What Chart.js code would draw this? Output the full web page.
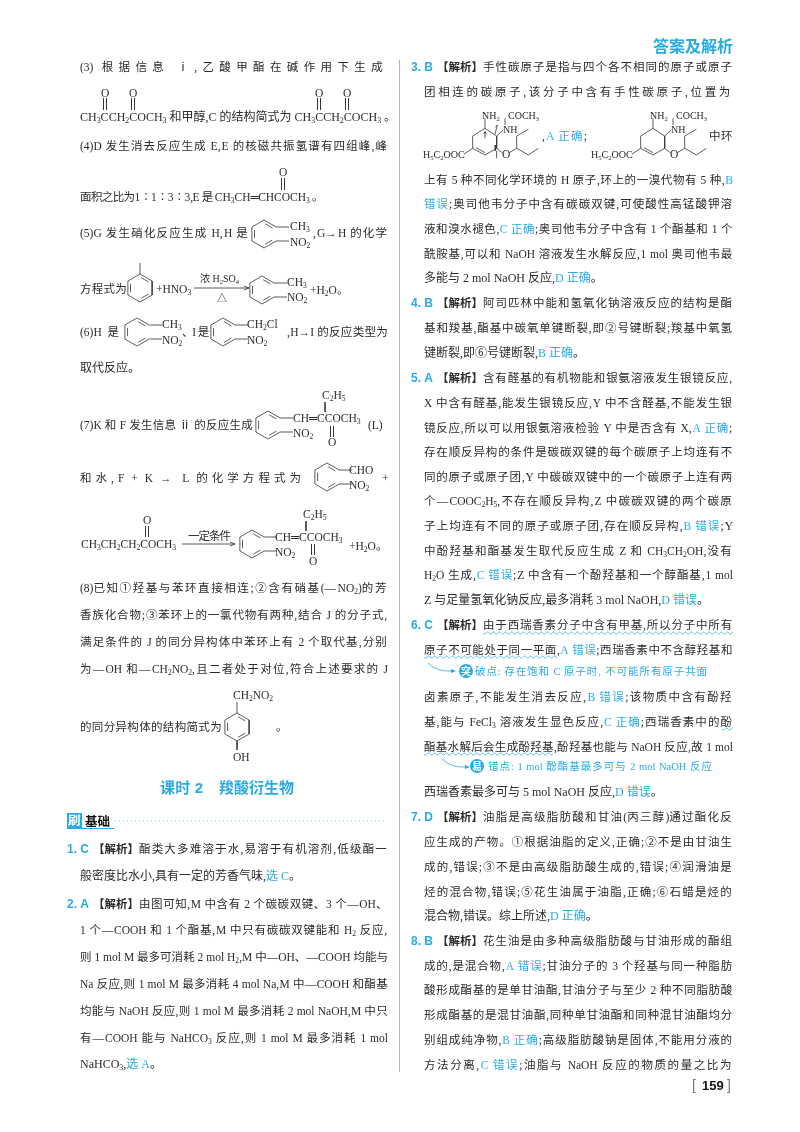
<!DOCTYPE html>
<html lang="zh">
<head>
<meta charset="utf-8">
<title>答案及解析</title>
<script src="https://cdn.jsdelivr.net/npm/chart.js@4"></script>
<style>
  html, body { margin: 0; padding: 0; background: #fff; }
  canvas { display: block; }
</style>
</head>
<body>
<canvas id="page" width="800" height="1132"></canvas>
<script>
// Markup in the text lists: {..} is blue answer text, _3 is a subscript, "3. B|" is a question label
const leftLines = [
  '(3) 根据信息 ⅰ,乙酸甲酯在碱作用下生成',
  'CH_3CCH_2COCH_3 和甲醇,C 的结构简式为 CH_3CCH_2COCH_3 。',
  '(4)D 发生消去反应生成 E,E 的核磁共振氢谱有四组峰,峰',
  '取代反应。',
  '(8)已知①羟基与苯环直接相连;②含有硝基(—NO_2)的芳',
  '香族化合物;③苯环上的一氯代物有两种,结合 J 的分子式,',
  '满足条件的 J 的同分异构体中苯环上有 2 个取代基,分别',
  '为—OH 和—CH_2NO_2,且二者处于对位,符合上述要求的 J',
  '1. C|酯类大多难溶于水,易溶于有机溶剂,低级酯一',
  '般密度比水小,具有一定的芳香气味,{选 C}。',
  '2. A|由图可知,M 中含有 2 个碳碳双键、3 个—OH、',
  '1 个—COOH 和 1 个酯基,M 中只有碳碳双键能和 H_2 反应,',
  '则 1 mol M 最多可消耗 2 mol H_2,M 中—OH、—COOH 均能与',
  'Na 反应,则 1 mol M 最多消耗 4 mol Na,M 中—COOH 和酯基',
  '均能与 NaOH 反应,则 1 mol M 最多消耗 2 mol NaOH,M 中只',
  '有—COOH 能与 NaHCO_3 反应,则 1 mol M 最多消耗 1 mol',
  'NaHCO_3,{选 A}。'
];
const leftRows = [67, 117, 146, 368, 588, 615, 642, 669, 849, 876, 904, 930, 957, 984, 1011, 1038, 1064];

const rightLines = [
  '3. B|手性碳原子是指与四个各不相同的原子或原子',
  '团相连的碳原子,该分子中含有手性碳原子,位置为',
  '上有 5 种不同化学环境的 H 原子,环上的一溴代物有 5 种,{B}',
  '{错误};奥司他韦分子中含有碳碳双键,可使酸性高锰酸钾溶',
  '液和溴水褪色,{C 正确};奥司他韦分子中含有 1 个酯基和 1 个',
  '酰胺基,可以和 NaOH 溶液发生水解反应,1 mol 奥司他韦最',
  '多能与 2 mol NaOH 反应,{D 正确}。',
  '4. B|阿司匹林中能和氢氧化钠溶液反应的结构是酯',
  '基和羧基,酯基中碳氧单键断裂,即②号键断裂;羧基中氧氢',
  '键断裂,即⑥号键断裂,{B 正确}。',
  '5. A|含有醛基的有机物能和银氨溶液发生银镜反应,',
  'X 中含有醛基,能发生银镜反应,Y 中不含醛基,不能发生银',
  '镜反应,所以可以用银氨溶液检验 Y 中是否含有 X,{A 正确};',
  '存在顺反异构的条件是碳碳双键的每个碳原子上均连有不',
  '同的原子或原子团,Y 中碳碳双键中的一个碳原子上连有两',
  '个—COOC_2H_5,不存在顺反异构,Z 中碳碳双键的两个碳原',
  '子上均连有不同的原子或原子团,存在顺反异构,{B 错误};Y',
  '中酚羟基和酯基发生取代反应生成 Z 和 CH_3CH_2OH,没有',
  'H_2O 生成,{C 错误};Z 中含有一个酚羟基和一个醇酯基,1 mol',
  'Z 与足量氢氧化钠反应,最多消耗 3 mol NaOH,{D 错误}。',
  '6. C|由于西瑞香素分子中含有甲基,所以分子中所有',
  '原子不可能处于同一平面,{A 错误};西瑞香素中不含醇羟基和',
  '卤素原子,不能发生消去反应,{B 错误};该物质中含有酚羟',
  '基,能与 FeCl_3 溶液发生显色反应,{C 正确};西瑞香素中的酚',
  '酯基水解后会生成酚羟基,酚羟基也能与 NaOH 反应,故 1 mol',
  '西瑞香素最多可与 5 mol NaOH 反应,{D 错误}。',
  '7. D|油脂是高级脂肪酸和甘油(丙三醇)通过酯化反',
  '应生成的产物。①根据油脂的定义,正确;②不是由甘油生',
  '成的,错误;③不是由高级脂肪酸生成的,错误;④润滑油是',
  '烃的混合物,错误;⑤花生油属于油脂,正确;⑥石蜡是烃的',
  '混合物,错误。综上所述,{D 正确}。',
  '8. B|花生油是由多种高级脂肪酸与甘油形成的酯组',
  '成的,是混合物,{A 错误};甘油分子的 3 个羟基与同一种脂肪',
  '酸形成酯基的是单甘油酯,甘油分子与至少 2 种不同脂肪酸',
  '形成酯基的是混甘油酯,同种单甘油酯和同种混甘油酯均分',
  '别组成纯净物,{B 正确};高级脂肪酸钠是固体,不能用分液的',
  '方法分离,{C 错误};油脂与 NaOH 反应的物质的量之比为'
];
const rightRows = [67, 92, 180, 204, 229, 254, 278, 303, 328, 353, 378, 403, 428, 452, 477, 501, 526, 551, 575, 600,
  625, 650, 697, 722, 747, 792, 817, 842, 867, 892, 916, 941, 966, 990, 1015, 1040, 1065];

// Pieces of the lines that are broken up by a structural formula
const formulaTexts = [
  'O', 'O', 'O', 'O',
  '面积之比为1∶1∶3∶3,E 是 CH_3CH═CHCOCH_3 。', 'O',
  '(5)G 发生硝化反应生成 H,H 是', ',G→H 的化学', 'CH_3', 'NO_2',
  '方程式为', '+HNO_3', '浓 H_2SO_4', '△', 'CH_3', 'NO_2', '+H_2O。',
  '(6)H 是', 'CH_3', 'NO_2', '、I 是', 'CH_2Cl', 'NO_2', ',H→I 的反应类型为',
  '(7)K 和 F 发生信息 ⅱ 的反应生成', 'CH═CCOCH_3', 'NO_2', '(L)', 'C_2H_5', 'O',
  '和水,F + K → L 的化学方程式为', 'CHO', 'NO_2', '+',
  'CH_3CH_2CH_2COCH_3', 'O', '一定条件', 'CH═CCOCH_3', 'NO_2', 'C_2H_5', 'O', '+H_2O。',
  '的同分异构体的结构简式为', 'CH_2NO_2', 'OH', '。',
  'H_5C_2OOC', 'NH_2', 'COCH_3', 'NH', 'O', ',{A 正确};',
  'H_5C_2OOC', 'NH_2', 'COCH_3', 'NH', 'O', '中环'
];
const formulaSpots = [
  [101, 93], [129, 93], [315, 93], [343, 93],
  [80, 197, 243], [279, 172],
  [80, 233, 169], [313, 233, 75], [290, 226], [290, 242],
  [80, 289, 47], [156, 289], [200, 278], [217, 298], [287, 282], [287, 297], [310, 290],
  [80, 332, 42], [162, 324], [162, 340], [182, 332, 26], [247, 324], [247, 340], [287, 332, 101],
  [80, 425, 173], [293, 418], [293, 433], [368, 425, 19], [322, 395], [328, 442],
  [80, 478, 225], [349, 470], [349, 485], [382, 478],
  [81, 544, 97], [143, 520], [188, 536, 42], [275, 537], [275, 552], [303, 514], [309, 561], [349, 546, 36],
  [80, 727, 142], [233, 695, 40], [233, 757], [276, 727],
  [423, 154, 41], [482, 115], [508, 115, 26], [503, 129], [502, 154], [542, 136, 46],
  [591, 154, 41], [650, 115], [676, 115, 26], [671, 129], [670, 154], [709, 136, 24]
];
const smallPieces = ['H_5C_2OOC', 'NH_2', 'COCH_3', 'NH', '浓 H_2SO_4', '△'];

// Centres of the benzene rings
const orthoRings = [[264, 234], [262, 290], [137, 332], [223, 332], [268, 425], [327, 477], [252, 544]];
const fullRings = [[140, 288], [237, 727]];

const blue = '#29abe2';
const ink = '#2b2b2b';
const serif = '"Liberation Serif", "Noto Sans CJK SC", sans-serif';
const sans = '"Liberation Sans", "Noto Sans CJK SC", sans-serif';

function seg(list, x1, y1, x2, y2) {
  list.push({ x: x1, y: y1 }, { x: x2, y: y2 }, { x: null, y: null });
}

function ringBonds(list, cx, cy, r, openRight) {
  const v = [];
  for (let i = 0; i < 6; i++) {
    const a = (-90 + 60 * i) * Math.PI / 180;
    v.push([cx + r * Math.cos(a), cy + r * Math.sin(a)]);
  }
  for (let i = 0; i < 6; i++) {
    if (openRight && i === 1) continue;
    const p = v[i], q = v[(i + 1) % 6];
    seg(list, p[0], p[1], q[0], q[1]);
  }
  // inner double bonds
  [0, 2, 4].forEach(i => {
    const p = v[i], q = v[(i + 1) % 6];
    const k = 0.78;
    const ix = t => cx + (t[0] - cx) * k, iy = t => cy + (t[1] - cy) * k;
    const mx = (ix(p) + ix(q)) / 2, my = (iy(p) + iy(q)) / 2;
    seg(list, mx + (ix(p) - mx) * 0.75, my + (iy(p) - my) * 0.75, mx + (ix(q) - mx) * 0.75, my + (iy(q) - my) * 0.75);
  });
  return v;
}

function doubleBond(list, x, y1, y2) {
  seg(list, x - 1.5, y1, x - 1.5, y2);
  seg(list, x + 1.5, y1, x + 1.5, y2);
}

function arrow(list, x1, x2, y) {
  seg(list, x1, y, x2, y);
  seg(list, x2 - 5, y - 2, x2, y);
  seg(list, x2 - 5, y + 2, x2, y);
}

// drawn twice on the right column, the second copy without the chirality marks
function oseltamivir(list, dx, marks) {
  const px = z => 400 + z / 3 + dx, py = z => 30 + z / 3;
  const path = pts => {
    for (let i = 1; i < pts.length; i++) seg(list, px(pts[i - 1][0]), py(pts[i - 1][1]), px(pts[i][0]), py(pts[i][1]));
  };
  path([[218, 355], [218, 318], [255, 295], [290, 318], [290, 355], [255, 375], [218, 355]]);
  path([[228, 353], [255, 368]]);
  path([[192, 372], [218, 355]]);
  path([[255, 295], [255, 265]]);
  path([[290, 318], [310, 300]]);
  path([[315, 285], [315, 265]]);
  path([[290, 355], [307, 368]]);
  path([[328, 368], [350, 355], [385, 375], [415, 355]]);
  path([[350, 355], [350, 318], [385, 298]]);
  if (marks) {
    path([[255, 325], [255, 305], [251, 312]]);
    path([[255, 305], [259, 312]]);
    path([[285, 312], [292, 285], [286, 292]]);
    path([[285, 345], [286, 362]]);
    path([[290, 385], [290, 362]]);
  }
}

const bonds = [];
orthoRings.forEach(c => {
  const v = ringBonds(bonds, c[0], c[1], 14, true);
  seg(bonds, v[1][0], v[1][1], c[0] + 25, v[1][1]);
  seg(bonds, v[2][0], v[2][1], c[0] + 25, v[2][1]);
});
fullRings.forEach(c => ringBonds(bonds, c[0], c[1], 14, false));
seg(bonds, 140, 274, 140, 263);   // methyl on toluene
seg(bonds, 237, 713, 237, 702);   // para substituents
seg(bonds, 237, 741, 237, 750);
[[105, 98, 110], [133, 98, 110], [319, 98, 110], [347, 98, 110], [283, 178, 190],
 [332, 426, 437], [147, 526, 537], [313, 544, 555]].forEach(d => doubleBond(bonds, d[0], d[1], d[2]));
seg(bonds, 325, 402, 325, 412);
seg(bonds, 306, 521, 306, 531);
arrow(bonds, 194, 249, 288);
arrow(bonds, 182, 235, 544);
oseltamivir(bonds, 0, true);
oseltamivir(bonds, 168, false);

function splitMarkup(line) {
  const runs = [];
  const add = (t, color) => {
    t.split(/(_\d)/).forEach(p => {
      if (!p) return;
      if (/^_\d$/.test(p)) { runs.push({ t: p[1], color, sub: true }); return; }
      (p.match(/[\u2000-\uffff ,;]+|[^\u2000-\uffff ,;]+/g) || []).forEach(s => {
        runs.push({ t: s, color, wide: /[\u2000-\uffff ,;]/.test(s[0]) });
      });
    });
  };
  line.split(/(\{[^}]*\})/).forEach(p => {
    if (!p) return;
    if (p[0] === '{') add(p.slice(1, -1), blue); else add(p, null);
  });
  return runs;
}

function drawLine(ctx, line, x, y, width, opts) {
  const o = opts || {};
  const size = o.size || 11.5;
  const family = o.family || serif;
  const weight = o.bold ? 'bold ' : '';
  const runs = splitMarkup(line);
  let natural = 0, gaps = 0;
  runs.forEach(r => {
    ctx.font = weight + (r.sub ? size * 0.66 : size) + 'px ' + family;
    ctx.letterSpacing = '0px';
    r.w = ctx.measureText(r.t).width;
    natural += r.w;
    if (r.wide) gaps += [...r.t].length;
  });
  const extra = width && gaps ? (width - natural) / gaps : 0;
  let cx = x;
  runs.forEach(r => {
    ctx.font = weight + (r.sub ? size * 0.66 : size) + 'px ' + family;
    ctx.letterSpacing = r.wide ? extra + 'px' : '0px';
    ctx.fillStyle = r.color || o.color || ink;
    ctx.textBaseline = 'alphabetic';
    ctx.textAlign = 'left';
    ctx.fillText(r.t, cx, y + size * 0.36 + (r.sub ? 2 : 0));
    cx += r.w + (r.wide ? extra * [...r.t].length : 0);
  });
  ctx.letterSpacing = '0px';
}

function drawColumn(chart, lines, rows, labelX, bodyX, endX) {
  const ctx = chart.ctx;
  const xs = chart.scales.x, ys = chart.scales.y;
  lines.forEach((line, i) => {
    const y = ys.getPixelForValue(rows[i]);
    let text = line, start = bodyX;
    if (line.includes('|')) {
      const parts = line.split('|');
      drawLine(ctx, parts[0], xs.getPixelForValue(labelX), y, null, { family: sans, bold: true, color: blue, size: 12 });
      drawLine(ctx, '【解析】', xs.getPixelForValue(labelX + 26), y, 46, { family: sans, bold: true, size: 11.5 });
      text = parts[1];
      start = labelX + 72;
    }
    const last = text.endsWith('。');
    drawLine(ctx, text, xs.getPixelForValue(start), y, last ? null : xs.getPixelForValue(endX) - xs.getPixelForValue(start), last ? { size: 12 } : null);
  });
}

function wave(chart, x1, x2, y) {
  const ctx = chart.ctx;
  ctx.beginPath();
  for (let x = x1; x <= x2; x += 0.5) {
    const py = y + 1.1 * Math.sin((x - x1) * Math.PI / 3);
    if (x === x1) ctx.moveTo(x, py); else ctx.lineTo(x, py);
  }
  ctx.strokeStyle = blue;
  ctx.lineWidth = 0.8;
  ctx.stroke();
}

function callout(chart, x1, y1, x2, y2, cx, cy, badge, text, tx, tw) {
  const ctx = chart.ctx;
  ctx.beginPath();
  ctx.moveTo(x1, y1);
  ctx.quadraticCurveTo((x1 + x2) / 2 - 4, y2 + 1, x2, y2);
  ctx.strokeStyle = blue;
  ctx.lineWidth = 0.8;
  ctx.stroke();
  ctx.beginPath();
  ctx.moveTo(x2 + 3, y2); ctx.lineTo(x2 - 2, y2 - 2); ctx.lineTo(x2 - 2, y2 + 2); ctx.closePath();
  ctx.fillStyle = blue;
  ctx.fill();
  ctx.beginPath();
  ctx.arc(cx, cy, 7, 0, Math.PI * 2);
  ctx.fill();
  drawLine(ctx, badge, cx - 5, cy, null, { family: sans, bold: true, color: '#fff', size: 10 });
  drawLine(ctx, text, tx, cy, tw, { color: blue, size: 10.5 });
}

const pageText = {
  id: 'pageText',
  afterDatasetsDraw(chart) {
    const ctx = chart.ctx;
    const xs = chart.scales.x, ys = chart.scales.y;
    ctx.save();

    drawLine(ctx, '答案及解析', 653, 46, 80, { family: sans, bold: true, color: blue, size: 16 });
    drawColumn(chart, leftLines, leftRows, 67, 80, 388);
    drawColumn(chart, rightLines, rightRows, 411, 424, 733);

    formulaTexts.forEach((text, i) => {
      const s = formulaSpots[i];
      const small = smallPieces.includes(text);
      drawLine(ctx, text, xs.getPixelForValue(s[0]), ys.getPixelForValue(s[1]), s[2] || null, { size: small ? 10 : 11.5 });
    });

    // section title and the small tag under it
    drawLine(ctx, '课时 2', 160, 788, 43, { family: sans, bold: true, color: blue, size: 15 });
    drawLine(ctx, '羧酸衍生物', 219, 788, 75, { family: sans, bold: true, color: blue, size: 15 });
    ctx.fillStyle = blue;
    ctx.fillRect(67, 813, 15, 15);
    ctx.fillRect(67, 828, 47, 1);
    drawLine(ctx, '刷', 68, 820.5, null, { family: sans, bold: true, color: '#fff', size: 12.5 });
    drawLine(ctx, '基础', 85, 821, 25, { family: sans, bold: true, color: '#111', size: 12.5 });

    // wavy marks and margin notes of question 6
    [[483, 733, 633], [424, 557, 657], [722, 733, 729], [424, 553, 754]].forEach(w => wave(chart, w[0], w[1], w[2]));
    callout(chart, 428, 663, 453, 671, 466, 671, '突', '破点: 存在饱和 C 原子时, 不可能所有原子共面', 475, 233);
    callout(chart, 442, 759, 467, 767, 477, 766, '易', '错点: 1 mol 酚酯基最多可与 2 mol NaOH 反应', 488, 225);

    // page number
    drawLine(ctx, '[', 692, 1085, null, { family: sans, color: '#777', size: 14 });
    drawLine(ctx, '159', 702, 1085, null, { family: sans, bold: true, color: '#111', size: 13 });
    drawLine(ctx, ']', 727, 1085, null, { family: sans, color: '#777', size: 14 });
    ctx.restore();
  }
};

new Chart(document.getElementById('page').getContext('2d'), {
  type: 'scatter',
  data: {
    datasets: [
      { label: 'bonds', data: bonds, showLine: true, pointRadius: 0, borderColor: '#333', borderWidth: 0.8, spanGaps: false },
      { label: 'column rule', data: [{ x: 399.5, y: 60 }, { x: 399.5, y: 1072 }], showLine: true, pointRadius: 0, borderColor: '#b5b5b5', borderWidth: 1 },
      { label: 'leader', data: [{ x: 115, y: 821 }, { x: 387, y: 821 }], showLine: true, pointRadius: 0, borderColor: '#7fd0d8', borderWidth: 1, borderDash: [1, 3] }
    ]
  },
  options: {
    responsive: false,
    animation: false,
    devicePixelRatio: 1,
    layout: { padding: 0 },
    plugins: { legend: { display: false }, tooltip: { enabled: false } },
    events: [],
    scales: {
      x: { type: 'linear', min: 0, max: 800, display: false },
      y: { type: 'linear', min: 0, max: 1132, reverse: true, display: false }
    }
  },
  plugins: [pageText]
});
</script>
</body>
</html>
